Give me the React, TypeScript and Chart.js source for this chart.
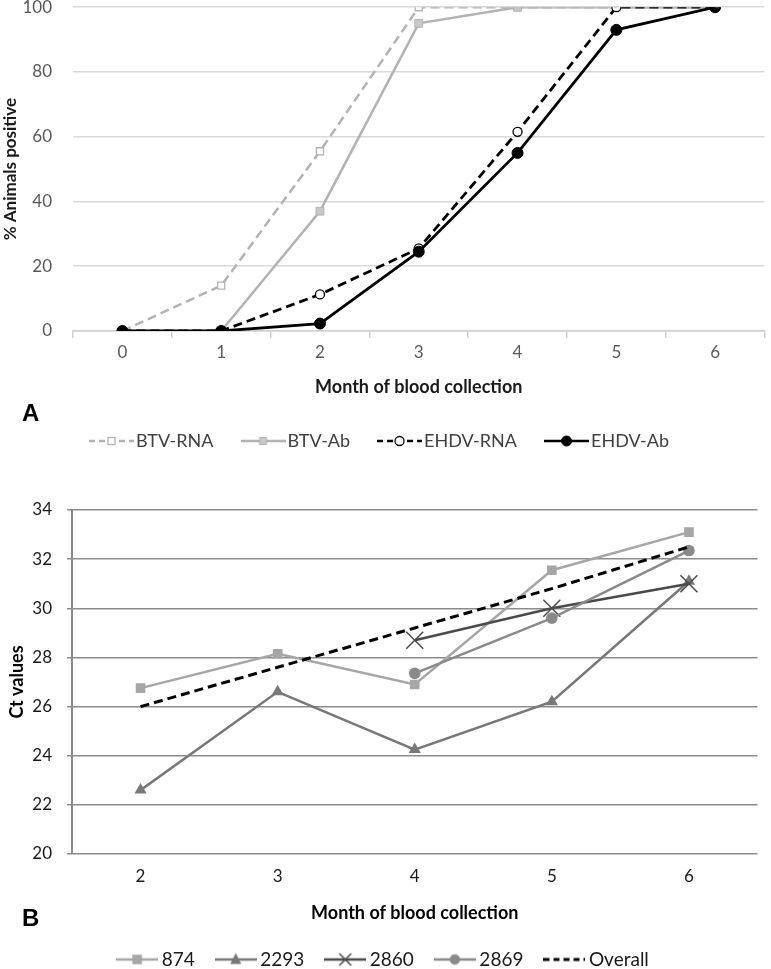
import React, { useEffect, useRef } from 'react';
import { Chart, registerables } from 'chart.js';

Chart.register(...registerables);

const FONT = 'Lato, "Open Sans", "DejaVu Sans", sans-serif';

// ---------- Panel A data ----------
const monthsA = ['0', '1', '2', '3', '4', '5', '6'];
const btvRna = [0, 14, 55.5, 100, 100, 100, 100];
const btvAb = [0, 0, 37, 95, 100, 100, 100];
const ehdvRna = [0, 0, 11.3, 25.5, 61.5, 100, 100];
const ehdvAb = [0, 0, 2.3, 24.5, 55, 93, 100];
const ticksA = [0, 20, 40, 60, 80, 100];
const seriesNamesA = ['BTV-RNA', 'BTV-Ab', 'EHDV-RNA', 'EHDV-Ab'];

// ---------- Panel B data ----------
const monthsB = ['2', '3', '4', '5', '6'];
const ct874 = [26.75, 28.15, 26.9, 31.55, 33.1];
const ct2293 = [22.6, 26.6, 24.25, 26.2, 31.1];
const ct2860 = [null, null, 28.7, 30.0, 31.0];
const ct2869 = [null, null, 27.35, 29.6, 32.35];
const ctOverall = [26.0, 27.6, 29.2, 30.8, 32.5];
const ticksB = [20, 22, 24, 26, 28, 30, 32, 34];
const seriesNamesB = ['874', '2293', '2860', '2869', 'Overall'];

type Marker = (ctx: CanvasRenderingContext2D, cx: number, cy: number) => void;

function legendImage(w: number, h: number, color: string, lw: number, dash: number[], marker?: Marker) {
  const c = document.createElement('canvas');
  c.width = w;
  c.height = h;
  const ctx = c.getContext('2d')!;
  ctx.strokeStyle = color;
  ctx.lineWidth = lw;
  ctx.setLineDash(dash);
  ctx.beginPath();
  ctx.moveTo(0, h / 2);
  ctx.lineTo(w, h / 2);
  ctx.stroke();
  ctx.setLineDash([]);
  if (marker) marker(ctx, w / 2, h / 2);
  return c;
}

const squareMarker = (size: number, fill: string, stroke: string, lw: number): Marker => (ctx, cx, cy) => {
  ctx.fillStyle = fill;
  ctx.fillRect(cx - size / 2, cy - size / 2, size, size);
  ctx.strokeStyle = stroke;
  ctx.lineWidth = lw;
  ctx.strokeRect(cx - size / 2, cy - size / 2, size, size);
};
const circleMarker = (r: number, fill: string, stroke: string, lw: number): Marker => (ctx, cx, cy) => {
  ctx.beginPath();
  ctx.arc(cx, cy, r, 0, Math.PI * 2);
  ctx.fillStyle = fill;
  ctx.fill();
  ctx.strokeStyle = stroke;
  ctx.lineWidth = lw;
  ctx.stroke();
};
const triangleMarker = (s: number, fill: string): Marker => (ctx, cx, cy) => {
  ctx.beginPath();
  ctx.moveTo(cx, cy - s * 0.6);
  ctx.lineTo(cx + s / 2, cy + s * 0.4);
  ctx.lineTo(cx - s / 2, cy + s * 0.4);
  ctx.closePath();
  ctx.fillStyle = fill;
  ctx.fill();
};
const crossMarker = (s: number, stroke: string, lw: number): Marker => (ctx, cx, cy) => {
  ctx.strokeStyle = stroke;
  ctx.lineWidth = lw;
  ctx.beginPath();
  ctx.moveTo(cx - s, cy - s);
  ctx.lineTo(cx + s, cy + s);
  ctx.moveTo(cx + s, cy - s);
  ctx.lineTo(cx - s, cy + s);
  ctx.stroke();
};

function PanelA() {
  const ref = useRef<HTMLCanvasElement>(null);
  useEffect(() => {
    const LG = '#b3b3b3';
    const imgs = [
      legendImage(45, 16, LG, 2.5, [6, 4], squareMarker(7, '#ffffff', LG, 1.3)),
      legendImage(45, 16, LG, 2.5, [], squareMarker(7, '#c8c8c8', LG, 1)),
      legendImage(45, 16, '#000', 2.5, [6, 4], circleMarker(4.5, '#ffffff', '#000', 1.3)),
      legendImage(45, 16, '#000', 2.5, [], circleMarker(5, '#000', '#000', 1)),
    ];
    const chart = new Chart(ref.current!, {
      type: 'line',
      data: {
        labels: monthsA,
        datasets: [
          {
            label: seriesNamesA[0], data: btvRna, order: 4,
            borderColor: LG, borderWidth: 2.5, borderDash: [9, 5],
            pointStyle: 'rect', pointRadius: 5, pointBackgroundColor: '#ffffff',
            pointBorderColor: LG, pointBorderWidth: 1.3,
          },
          {
            label: seriesNamesA[1], data: btvAb, order: 3,
            borderColor: LG, borderWidth: 2.5,
            pointStyle: 'rect', pointRadius: 5.5, pointBackgroundColor: '#c8c8c8',
            pointBorderColor: LG, pointBorderWidth: 1,
          },
          {
            label: seriesNamesA[2], data: ehdvRna, order: 2,
            borderColor: '#000', borderWidth: 2.8, borderDash: [9, 5],
            pointStyle: 'circle', pointRadius: 4.5, pointBackgroundColor: '#ffffff',
            pointBorderColor: '#000', pointBorderWidth: 1.3,
          },
          {
            label: seriesNamesA[3], data: ehdvAb, order: 1,
            borderColor: '#000', borderWidth: 2.8,
            pointStyle: 'circle', pointRadius: 5.5, pointBackgroundColor: '#000',
            pointBorderColor: '#000', pointBorderWidth: 1,
          },
        ],
      },
      options: {
        responsive: false,
        animation: false,
        layout: { padding: { top: 0, right: 6, left: 0, bottom: 10 } },
        plugins: {
          tooltip: { enabled: false },
          title: { display: false },
          legend: {
            position: 'bottom',
            labels: {
              usePointStyle: true,
              pointStyleWidth: 31,
              padding: 34,
              color: '#404040',
              font: { family: FONT, size: 18 },
              sort: (a: any, b: any) => a.datasetIndex - b.datasetIndex,
              generateLabels: (ch: any) => {
                const items = Chart.defaults.plugins.legend.labels.generateLabels(ch);
                return items.map((it: any) => ({ ...it, pointStyle: imgs[it.datasetIndex] }));
              },
            },
          },
        },
        scales: {
          x: {
            offset: true,
            grid: { display: true, drawOnChartArea: false, drawTicks: true, tickLength: 7, offset: true, color: '#d0d0d0', lineWidth: 1.5 },
            border: { display: true, color: '#d0d0d0', width: 1.5 },
            ticks: { color: '#595959', font: { family: FONT, size: 17 }, padding: 4, maxRotation: 0, autoSkip: false },
            title: { display: true, text: 'Month of blood collection', color: '#1a1a1a', font: { family: FONT, size: 18, weight: 'bold' }, padding: { top: 10, bottom: 0 } },
          },
          y: {
            min: ticksA[0],
            max: ticksA[ticksA.length - 1],
            ticks: { stepSize: ticksA[1] - ticksA[0], color: '#595959', font: { family: FONT, size: 17 }, padding: 0 },
            grid: { color: '#d9d9d9', lineWidth: 1.5, drawTicks: true, tickLength: 21, tickColor: 'rgba(0,0,0,0)' },
            border: { display: false },
            title: { display: true, text: '% Animals positive', color: '#1a1a1a', font: { family: FONT, size: 17, weight: 'bold' }, padding: { top: 0, bottom: 0 } },
            afterFit: (s: any) => { s.width = 73; },
          },
        },
      } as any,
    });
    return () => chart.destroy();
  }, []);
  return <canvas ref={ref} width={771} height={473} style={{ position: 'absolute', left: 0, top: -3, display: 'block' }} />;
}

function PanelB() {
  const ref = useRef<HTMLCanvasElement>(null);
  useEffect(() => {
    const C874 = '#a6a6a6';
    const C2293 = '#787878';
    const C2860 = '#4a4a4a';
    const C2869 = '#8a8a8a';
    const imgs = [
      legendImage(42, 18, C874, 2.5, [], squareMarker(9, C874, C874, 0.5)),
      legendImage(42, 18, C2293, 2.5, [], triangleMarker(11, C2293)),
      legendImage(42, 18, C2860, 2.5, [], crossMarker(6, C2860, 1.5)),
      legendImage(42, 18, C2869, 2.5, [], circleMarker(5, C2869, C2869, 0.5)),
      legendImage(42, 18, '#000', 3, [6, 4]),
    ];
    const chart = new Chart(ref.current!, {
      type: 'line',
      data: {
        labels: monthsB,
        datasets: [
          {
            label: seriesNamesB[0], data: ct874, order: 5,
            borderColor: C874, borderWidth: 2.5,
            pointStyle: 'rect', pointRadius: 6.8, pointBackgroundColor: C874, pointBorderColor: C874, pointBorderWidth: 0,
          },
          {
            label: seriesNamesB[1], data: ct2293, order: 4,
            borderColor: C2293, borderWidth: 2.5,
            pointStyle: 'triangle', pointRadius: 7, pointBackgroundColor: C2293, pointBorderColor: C2293, pointBorderWidth: 0,
          },
          {
            label: seriesNamesB[2], data: ct2860, order: 3,
            borderColor: C2860, borderWidth: 2.5,
            pointStyle: 'crossRot', pointRadius: 12, pointBackgroundColor: C2860, pointBorderColor: C2860, pointBorderWidth: 1.5,
          },
          {
            label: seriesNamesB[3], data: ct2869, order: 2,
            borderColor: C2869, borderWidth: 2.5,
            pointStyle: 'circle', pointRadius: 5.8, pointBackgroundColor: C2869, pointBorderColor: C2869, pointBorderWidth: 0,
          },
          {
            label: seriesNamesB[4], data: ctOverall, order: 1,
            borderColor: '#000', borderWidth: 3, borderDash: [9, 5],
            pointRadius: 0,
          },
        ],
      },
      options: {
        responsive: false,
        animation: false,
        spanGaps: false,
        layout: { padding: { top: 40, right: 0, left: 0, bottom: 11 } },
        plugins: {
          tooltip: { enabled: false },
          legend: {
            position: 'bottom',
            labels: {
              usePointStyle: true,
              pointStyleWidth: 30,
              padding: 26,
              color: '#1a1a1a',
              font: { family: FONT, size: 19 },
              sort: (a: any, b: any) => a.datasetIndex - b.datasetIndex,
              generateLabels: (ch: any) => {
                const items = Chart.defaults.plugins.legend.labels.generateLabels(ch);
                return items.map((it: any) => ({ ...it, pointStyle: imgs[it.datasetIndex] }));
              },
            },
          },
        },
        scales: {
          x: {
            offset: true,
            grid: { display: false, drawTicks: false },
            border: { display: false },
            ticks: { color: '#1a1a1a', font: { family: FONT, size: 17 }, padding: 12, maxRotation: 0, autoSkip: false },
            title: { display: true, text: 'Month of blood collection', color: '#000', font: { family: FONT, size: 18, weight: 'bold' }, padding: { top: 4, bottom: 0 } },
          },
          y: {
            min: ticksB[0],
            max: ticksB[ticksB.length - 1],
            ticks: { stepSize: ticksB[1] - ticksB[0], color: '#1a1a1a', font: { family: FONT, size: 17 }, padding: 15 },
            grid: { color: '#8c8c8c', lineWidth: 1.5, drawTicks: true, tickLength: 5 },
            border: { display: true, color: '#8c8c8c', width: 2 },
            title: { display: true, text: 'Ct values', color: '#000', font: { family: FONT, size: 18, weight: 'bold' }, padding: { top: 6, bottom: 0 } },
            afterFit: (s: any) => { s.width = 72; },
          },
        },
      } as any,
    });
    return () => chart.destroy();
  }, []);
  return <canvas ref={ref} width={771} height={520} style={{ position: 'absolute', left: 0, top: 470, display: 'block' }} />;
}

export default function App() {
  const letter: React.CSSProperties = {
    position: 'absolute',
    left: 22,
    font: 'bold 24px "Liberation Sans", Arial, sans-serif',
    lineHeight: '24px',
    color: '#000',
  };
  return (
    <div style={{ position: 'absolute', left: 0, top: 0, width: 771, height: 969, overflow: 'hidden', background: '#ffffff' }}>
      <PanelA />
      <PanelB />
      <div style={{ ...letter, top: 401 }}>A</div>
      <div style={{ ...letter, top: 906 }}>B</div>
    </div>
  );
}
